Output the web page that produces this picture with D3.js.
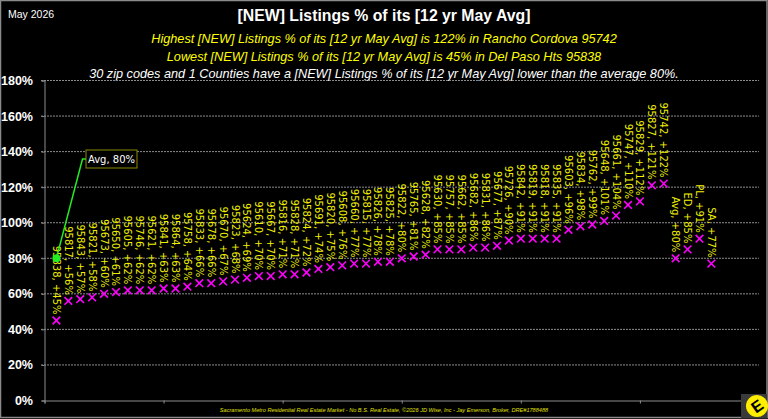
<!DOCTYPE html>
<html>
<head>
<meta charset="utf-8">
<script src="https://cdn.jsdelivr.net/npm/d3@7"></script>
<style>
  html, body { margin: 0; padding: 0; background: #000; }
  svg { display: block; }
</style>
</head>
<body>
<div id="chart"></div>
<script>
const zips = [
  "95838", "95817", "95843", "95821", "95673", "95650", "95605", "95746",
  "95621", "95841", "95864", "95758", "95833", "95678", "95670", "95823",
  "95624", "95610", "95667", "95816", "95828", "95824", "95691", "95820",
  "95608", "95660", "95815", "95826", "95825", "95822", "95765", "95628",
  "95630", "95757", "95662", "95682", "95831", "95677", "95726", "95842",
  "95819", "95818", "95835", "95603", "95834", "95762", "95648", "95661",
  "95747", "95829", "95827", "95742", "Avg", "ED", "PL", "SA",
];
const pcts = [
  45, 56, 57, 58, 60, 61, 62, 62,
  62, 63, 63, 64, 66, 66, 67, 68,
  69, 70, 70, 71, 71, 72, 74, 75,
  76, 77, 77, 78, 78, 80, 81, 82,
  85, 85, 85, 86, 86, 87, 90, 91,
  91, 91, 91, 96, 98, 99, 101, 104,
  110, 112, 121, 122, 80, 85, 91, 77,
];
const yTicks = [0, 20, 40, 60, 80, 100, 120, 140, 160, 180];
const avgValue = 80;
const dateLabel = "May 2026";
const titleText = "[NEW] Listings % of its [12 yr May Avg]";
const subLines = [
  "Highest [NEW] Listings % of its [12 yr May Avg] is 122% in Rancho Cordova 95742",
  "Lowest [NEW] Listings % of its [12 yr May Avg] is 45% in Del Paso Hts 95838",
  "30 zip codes and 1 Counties have a [NEW] Listings % of its [12 yr May Avg] lower than the average 80%.",
];
const footerText =
  "Sacramento Metro Residential Real Estate Market - No B.S. Real Estate, \u00a92026 JD Wise, Inc - Jay Emerson, Broker, DRE#1788488";

const W = 768, H = 419;
const svg = d3.select("#chart").append("svg")
  .attr("width", W).attr("height", H)
  .attr("viewBox", `0 0 ${W} ${H}`);

svg.append("rect").attr("x", 0.5).attr("y", 0.5)
  .attr("width", W - 1.5).attr("height", H - 2)
  .attr("fill", "#000").attr("stroke", "#8a8a8a").attr("stroke-width", 1.5);

const x = d3.scaleLinear().domain([0, 60]).range([44.5, 759]);
const y = d3.scaleLinear().domain([0, 180]).range([400.5, 80.5]);

// header
svg.append("text").attr("x", 8).attr("y", 18)
  .attr("fill", "#fff").attr("font-family", "Liberation Sans, Arial, sans-serif")
  .attr("font-size", 10.5).text(dateLabel);
svg.append("text").attr("x", 384).attr("y", 21)
  .attr("text-anchor", "middle").attr("fill", "#fff")
  .attr("font-family", "Liberation Sans, Arial, sans-serif")
  .attr("font-weight", "bold").attr("font-size", 15.8).text(titleText);
svg.selectAll("text.sub").data(subLines).join("text")
  .attr("class", "sub")
  .attr("x", 384).attr("y", (d, i) => [43, 61, 78][i])
  .attr("text-anchor", "middle")
  .attr("fill", (d, i) => (i < 2 ? "#ffff00" : "#fff"))
  .attr("font-family", "Liberation Sans, Arial, sans-serif")
  .attr("font-style", "italic").attr("font-size", 12.7)
  .text((d) => d);

// gridlines
const grid = svg.append("g");
grid.selectAll("line").data(yTicks.filter((t) => t > 0)).join("line")
  .attr("x1", 41).attr("x2", 759)
  .attr("y1", (d) => y(d)).attr("y2", (d) => y(d))
  .attr("stroke", "#8c8c8c").attr("stroke-width", 1)
  .attr("stroke-dasharray", "2,1");

// y axis
const yAxis = svg.append("g").attr("transform", "translate(44.5,0)")
  .call(d3.axisLeft(y).tickValues(yTicks).tickSize(3).tickFormat((d) => d + "%"));
yAxis.select(".domain").attr("stroke", "#8c8c8c");
yAxis.selectAll(".tick line").attr("stroke", "#8c8c8c");
yAxis.selectAll(".tick text").attr("fill", "#fff")
  .attr("x", -11.5)
  .attr("font-family", "Liberation Sans, Arial, sans-serif")
  .attr("font-weight", "bold").attr("font-size", 12.5);

// x axis
const xAxis = svg.append("g").attr("transform", `translate(0,${y(0)})`)
  .call(d3.axisBottom(x).tickValues(d3.range(0, 61, 10)).tickSize(3).tickFormat(""));
xAxis.select(".domain").attr("stroke", "#8c8c8c");
xAxis.selectAll(".tick line").attr("stroke", "#8c8c8c");

// markers
const pts = zips.map((z, i) => ({ zip: z, pct: pcts[i], idx: i + 1 }));
svg.append("g").selectAll("path").data(pts).join("path")
  .attr("transform", (d) => `translate(${x(d.idx)},${y(d.pct)})`)
  .attr("d", d3.symbol(d3.symbolTimes, 40))
  .attr("fill", "none").attr("stroke", "#ff00ff").attr("stroke-width", 1.6);

// data labels
svg.append("g").selectAll("text").data(pts).join("text")
  .attr("transform", (d) => `translate(${x(d.idx)},${y(d.pct) - 6}) rotate(90)`)
  .attr("text-anchor", "end").attr("dy", "0.35em")
  .attr("fill", "#f0f000")
  .attr("font-family", "DejaVu Sans, sans-serif").attr("font-size", 10)
  .text((d) => `${d.zip}, +${d.pct}%`);

// average callout
const ax = x(1), ay = y(avgValue);
const boxX = 86, boxY = 150;
svg.append("polyline")
  .attr("points", `${ax},${ay} ${boxX - 3.5},${boxY + 9} ${boxX},${boxY + 9}`)
  .attr("fill", "none").attr("stroke", "#22ee22").attr("stroke-width", 1.5);
svg.append("circle").attr("cx", ax).attr("cy", ay).attr("r", 4)
  .attr("fill", "#22ee22");
svg.append("rect").attr("x", boxX).attr("y", boxY)
  .attr("width", 51).attr("height", 18)
  .attr("fill", "#000").attr("stroke", "#8a8a00").attr("stroke-width", 1);
svg.append("text").attr("x", boxX + 25.5).attr("y", boxY + 13)
  .attr("text-anchor", "middle").attr("fill", "#fff")
  .attr("font-family", "DejaVu Sans, sans-serif").attr("font-size", 10)
  .text(`Avg, ${avgValue}%`);

// footer
svg.append("text").attr("x", 384).attr("y", 412)
  .attr("text-anchor", "middle").attr("fill", "#e0e000")
  .attr("font-family", "Liberation Sans, Arial, sans-serif")
  .attr("font-style", "italic").attr("font-size", 5.6)
  .text(footerText);

// logo
const logo = svg.append("g").attr("transform", "translate(757,406)");
logo.append("rect").attr("x", -16).attr("y", -12).attr("width", 26).attr("height", 24)
  .attr("fill", "#3a3a3a");
logo.append("circle").attr("r", 11).attr("fill", "#ffee00");
logo.append("text").attr("transform", "rotate(-35)")
  .attr("text-anchor", "middle").attr("dy", "0.36em")
  .attr("fill", "#000").attr("font-family", "Liberation Sans, Arial, sans-serif")
  .attr("font-weight", "bold").attr("font-size", 16).text("E");
</script>
</body>
</html>
